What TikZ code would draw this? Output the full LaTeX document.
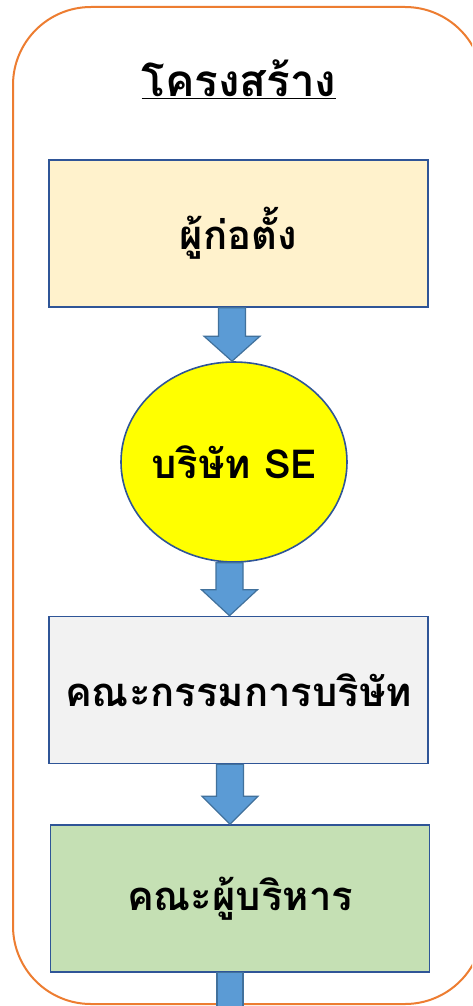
\documentclass[tikz,border=0pt]{standalone}
\usepackage{fontspec}
\usetikzlibrary{calc,shapes.geometric}
\newfontfamily\thai[Script=Thai]{Loma}
\definecolor{frameorange}{HTML}{ED7D31}
\definecolor{boxblue}{HTML}{2F5597}
\definecolor{arrowfill}{HTML}{5B9BD5}
\definecolor{arrowline}{HTML}{41719C}
\definecolor{fillA}{HTML}{FFF2CC}
\definecolor{fillC}{HTML}{F2F2F2}
\definecolor{fillD}{HTML}{C5E0B4}
\definecolor{fillB}{HTML}{FFFF00}
\tikzset{
  stagebox/.style={draw=boxblue, line width=1.6pt, minimum width=379pt, minimum height=147pt, inner sep=0pt, font=\thai\bfseries\fontsize{40}{48}\selectfont},
  stageoval/.style={ellipse, draw=boxblue, line width=1.6pt, fill=fillB, minimum width=226pt, minimum height=200pt, inner sep=0pt, font=\thai\bfseries\fontsize{40}{48}\selectfont},
  blockarrow/.style={fill=arrowfill, draw=arrowline, line width=1.2pt, line join=miter},
}
\newcommand{\flowarrow}[3]{% from, to, head length
  \path let \p1=(#1), \p2=(#2) in
    [blockarrow] (\x1-13.5pt,\y1) -- (\x1+13.5pt,\y1) -- (\x1+13.5pt,\y2+#3) -- (\x1+28pt,\y2+#3)
    -- (\x1,\y2) -- (\x1-28pt,\y2+#3) -- (\x1-13.5pt,\y2+#3) -- cycle;
}
\begin{document}
\begin{tikzpicture}[x=1pt,y=-1pt]
\useasboundingbox (0,0) rectangle (472,1006);
\clip (0,0) rectangle (472,1006);
\fill[white] (0,0) rectangle (472,1006);
\draw[frameorange, line width=2pt, rounded corners=78pt] (13,7) rectangle (483,1004);
\node[font=\thai\bfseries\fontsize{44}{52}\selectfont] (title) at (239,79) {\underline{โครงสร้าง}};
\node[stagebox, fill=fillA] (founder) at (238.5,233.5) {ผู้ก่อตั้ง};
\node[stageoval] (company) at (234,462) {\makebox[0pt]{บริษัท SE}};
\node[stagebox, fill=fillC] (board) at (238.5,690) {คณะกรรมการบริษัท};
\node[stagebox, fill=fillD] (exec) at (240,898.5) {คณะผู้บริหาร};
\coordinate (a1s) at (232,307);
\coordinate (a1e) at (232,362);
\coordinate (a2s) at (229.5,562);
\coordinate (a2e) at (229.5,618);
\coordinate (a3s) at (230,764);
\coordinate (a3e) at (230,822);
\flowarrow{founder.south -| a1s}{company.north -| a1e}{25pt}
\flowarrow{company.south -| a2s}{board.north -| a2e}{26pt}
\flowarrow{board.south -| a3s}{exec.north -| a3e}{28pt}
\coordinate (offpage) at (230,1012);
\path[blockarrow] ($(exec.south -| offpage)+(-13,0)$) rectangle ($(offpage)+(13,0)$);
\end{tikzpicture}
\end{document}
